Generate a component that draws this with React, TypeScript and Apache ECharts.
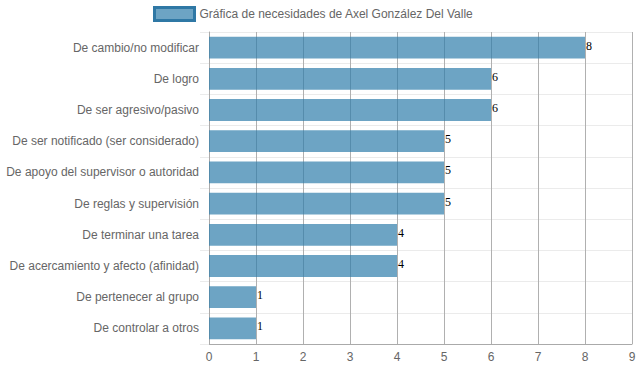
import React, { useEffect, useRef } from "react";
import * as echarts from "echarts";

const categories = [
  "De cambio/no modificar",
  "De logro",
  "De ser agresivo/pasivo",
  "De ser notificado (ser considerado)",
  "De apoyo del supervisor o autoridad",
  "De reglas y supervisión",
  "De terminar una tarea",
  "De acercamiento y afecto (afinidad)",
  "De pertenecer al grupo",
  "De controlar a otros",
];
const values = [8, 6, 6, 5, 5, 5, 4, 4, 1, 1];
const seriesName = "Gráfica de necesidades de Axel González Del Valle";

export default function App() {
  const ref = useRef<HTMLDivElement>(null);
  useEffect(() => {
    if (!ref.current) return;
    const chart = echarts.init(ref.current, undefined, { renderer: "svg" });
    const font = "'Liberation Sans', Arial, Helvetica, sans-serif";
    chart.setOption({
      animation: false,
      legend: {
        left: 148,
        top: 1,
        itemWidth: 40,
        itemHeight: 13,
        itemGap: 6,
        icon: "rect",
        textStyle: { color: "#666", fontSize: 12, fontFamily: font },
        data: [
          {
            name: seriesName,
            itemStyle: { color: "rgba(47,126,171,0.7)", borderColor: "rgb(47,120,165)", borderWidth: 3 },
          },
        ],
      },
      grid: { left: 209, right: 7, top: 32, bottom: 28, containLabel: false },
      xAxis: {
        type: "value",
        min: 0,
        max: 9,
        interval: 1,
        axisLine: { show: true, lineStyle: { color: "#aaa" } },
        axisTick: { show: false },
        axisLabel: { color: "#666", fontSize: 12, fontFamily: font, margin: 7 },
        splitLine: { show: true, lineStyle: { color: "#b0b0b0", width: 1 } },
      },
      yAxis: {
        type: "category",
        inverse: true,
        data: categories,
        axisLine: { show: true, lineStyle: { color: "#aaa" } },
        axisTick: { show: true, length: 9, lineStyle: { color: "#ebebeb" } },
        axisLabel: { color: "#666", fontSize: 12, fontFamily: font, margin: 10 },
        splitLine: { show: true, lineStyle: { color: "#ebebeb", width: 1 } },
      },
      series: [
        {
          name: seriesName,
          type: "bar",
          data: values,
          barWidth: "70%",
          itemStyle: { color: "rgba(47,126,171,0.7)" },
          label: {
            show: true,
            position: "right",
            distance: 1,
            offset: [0, -2],
            color: "#000",
            fontSize: 12,
            fontFamily: "'Liberation Serif', 'DejaVu Serif', serif",
          },
        },
      ],
    });
    return () => chart.dispose();
  }, []);
  return <div ref={ref} style={{ width: 639, height: 372, position: "absolute", left: 0, top: 0 }} />;
}
